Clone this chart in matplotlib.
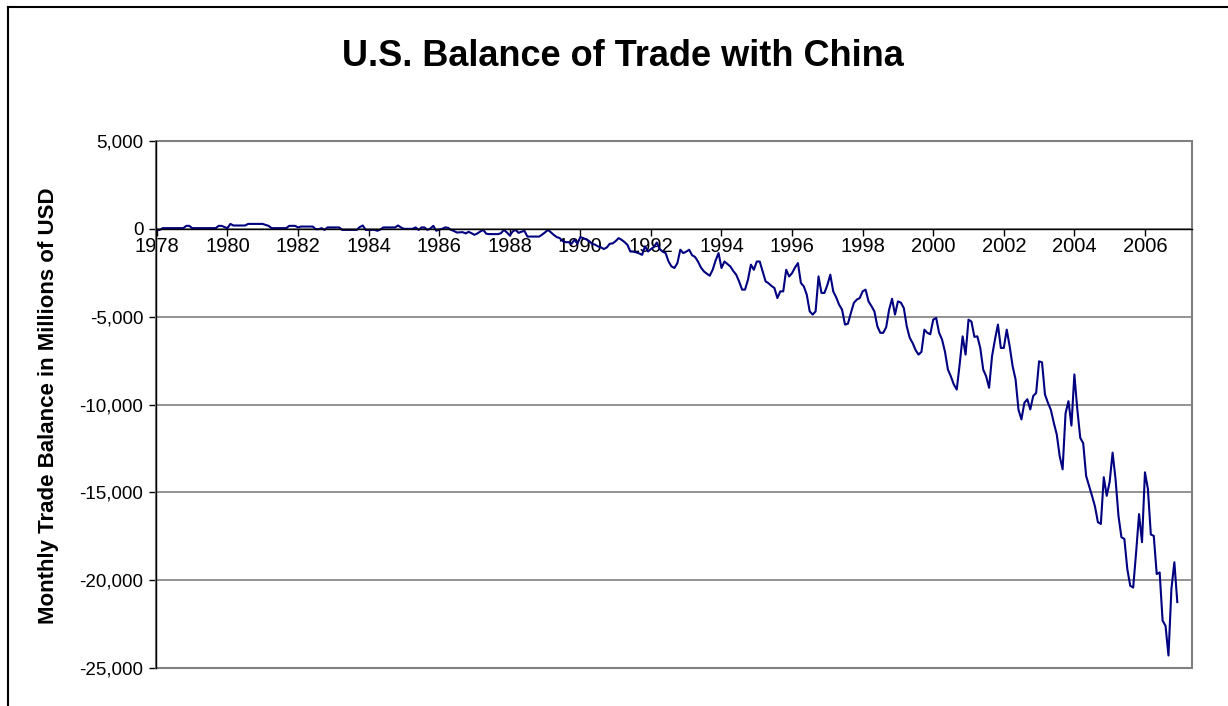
import numpy as np
import matplotlib
matplotlib.use('Agg')
import matplotlib.pyplot as plt
from matplotlib.ticker import FuncFormatter, FixedLocator
from matplotlib.patches import Rectangle
from matplotlib.lines import Line2D

plt.rcParams['font.family'] = ['Liberation Sans', 'DejaVu Sans']

# monthly US-China trade balance, millions of USD
years = list(range(1978, 2007))
v1978 = [-60, -60, 40, 40, 40, 40, 40, 40, 40, 40, 170, 170]
v1979 = [40, 40, 40, 40, 40, 40, 40, 40, 40, 170, 170, 100]
v1980 = [40, 280, 190, 190, 190, 190, 190, 280, 280, 280, 280, 280]
v1981 = [280, 220, 170, 40, 40, 40, 40, 40, 40, 170, 170, 170]
v1982 = [80, 130, 130, 130, 130, 130, -20, -20, 40, -60, 80, 80]
v1983 = [80, 80, 80, -60, -60, -60, -60, -60, -60, 100, 190, -60]
v1984 = [-60, -60, -60, -110, -40, 80, 80, 80, 80, 80, 190, 80]
v1985 = [0, 0, 0, 0, 80, -60, 80, 80, -60, 20, 170, -110]
v1986 = [-40, 0, 80, 60, -60, -120, -210, -200, -190, -260, -170, -250]
v1987 = [-340, -260, -150, -60, -280, -300, -300, -300, -300, -250, -60, -200]
v1988 = [-380, -150, -60, -230, -160, -120, -440, -440, -440, -440, -440, -330]
v1989 = [-200, -60, -200, -350, -470, -530, -700, -760, -760, -850, -620, -850]
v1990 = [-470, -530, -600, -700, -850, -900, -1000, -1050, -1150, -1060, -850, -830]
v1991 = [-700, -530, -620, -750, -910, -1290, -1300, -1340, -1400, -1480, -1000, -1290]
v1992 = [-1150, -1040, -780, -1150, -1300, -1380, -1860, -2140, -2230, -1950, -1190, -1380]
v1993 = [-1300, -1190, -1500, -1600, -1860, -2200, -2420, -2550, -2670, -2330, -1800, -1380]
v1994 = [-2230, -1860, -2000, -2140, -2400, -2610, -3000, -3460, -3460, -2900, -2040, -2330]
v1995 = [-1860, -1860, -2420, -2990, -3100, -3250, -3370, -3940, -3560, -3560, -2330, -2710]
v1996 = [-2520, -2200, -1950, -3080, -3280, -3750, -4700, -4880, -4700, -2710, -3650, -3650]
v1997 = [-3200, -2610, -3560, -3900, -4320, -4600, -5450, -5400, -4790, -4220, -4030, -3940]
v1998 = [-3560, -3460, -4130, -4400, -4700, -5550, -5920, -5920, -5600, -4600, -3980, -4880]
v1999 = [-4130, -4200, -4510, -5550, -6200, -6500, -6900, -7160, -7000, -5740, -5920, -6000]
v2000 = [-5170, -5070, -5920, -6300, -7000, -8010, -8400, -8860, -9150, -7700, -6120, -7160]
v2001 = [-5170, -5280, -6150, -6120, -6780, -8010, -8400, -9050, -7250, -6300, -5450, -6780]
v2002 = [-6780, -5740, -6690, -7820, -8570, -10300, -10850, -9900, -9700, -10280, -9520, -9340]
v2003 = [-7540, -7600, -9430, -9900, -10300, -11040, -11700, -12930, -13690, -10500, -9810, -11200]
v2004 = [-8290, -10280, -11900, -12200, -14070, -14630, -15200, -15800, -16700, -16800, -14140, -15200]
v2005 = [-14400, -12740, -14250, -16340, -17560, -17650, -19370, -20320, -20420, -18410, -16240, -17840]
v2006 = [-13860, -14800, -17400, -17480, -19650, -19560, -22300, -22600, -24290, -20500, -18980, -21250]

balance = (v1978 + v1979 + v1980 + v1981 + v1982 + v1983 + v1984 + v1985 + v1986 + v1987
           + v1988 + v1989 + v1990 + v1991 + v1992 + v1993 + v1994 + v1995 + v1996 + v1997
           + v1998 + v1999 + v2000 + v2001 + v2002 + v2003 + v2004 + v2005 + v2006)
months = np.arange(len(balance))
tick_years = years[::2]

fig = plt.figure(figsize=(12.28, 7.06), dpi=100)
ax = fig.add_axes([156/1228, 1 - 668/706, (1192-156)/1228, (668-141)/706])

ax.plot(months, balance, color='#000080', lw=1.5)

ax.set_ylim(-25000, 5000)
ax.set_xlim(-0.3, 352)
ax.set_yticks(np.arange(-25000, 5001, 5000))
ax.yaxis.set_major_formatter(FuncFormatter(lambda v, p: f"{int(v):,}"))
ax.xaxis.set_major_locator(FixedLocator([(y - 1978) * 12 for y in tick_years]))
ax.set_xticklabels([str(y) for y in tick_years])

ax.grid(axis='y', color='#808080', lw=1.2)
ax.set_axisbelow(True)
ax.add_patch(Rectangle((0, 0), 1, 1, transform=ax.transAxes, fill=False,
                       ec='#808080', lw=1.5, clip_on=False, zorder=1))

for s in ['top', 'right']:
    ax.spines[s].set_visible(False)
ax.spines['left'].set_color('black')
ax.spines['left'].set_linewidth(1.0)
ax.spines['bottom'].set_position(('data', 0))
ax.spines['bottom'].set_color('black')
ax.spines['bottom'].set_linewidth(1.0)
ax.spines['left'].set_zorder(3)
ax.spines['bottom'].set_zorder(3)

ax.tick_params(axis='y', direction='out', length=5, width=1, pad=4, labelsize=13.5)
ax.tick_params(axis='x', direction='out', length=5, width=1, pad=1, labelsize=14.5)

ax.set_ylabel('Monthly Trade Balance in Millions of USD', fontsize=16,
              fontweight='bold')
ax.yaxis.set_label_coords(-97 / 1036, 0.497)

fig.text(623/1228, 1 - 56/706, 'U.S. Balance of Trade with China', ha='center',
         va='center', fontsize=26, fontweight='bold')

# outer chart border
fig.add_artist(Line2D([8/1228, 8/1228], [0, 1 - 7/706], color='black', lw=1.5))
fig.add_artist(Line2D([8/1228, 1], [1 - 7/706, 1 - 7/706], color='black', lw=1.5))

fig.savefig('out.png', dpi=100)
